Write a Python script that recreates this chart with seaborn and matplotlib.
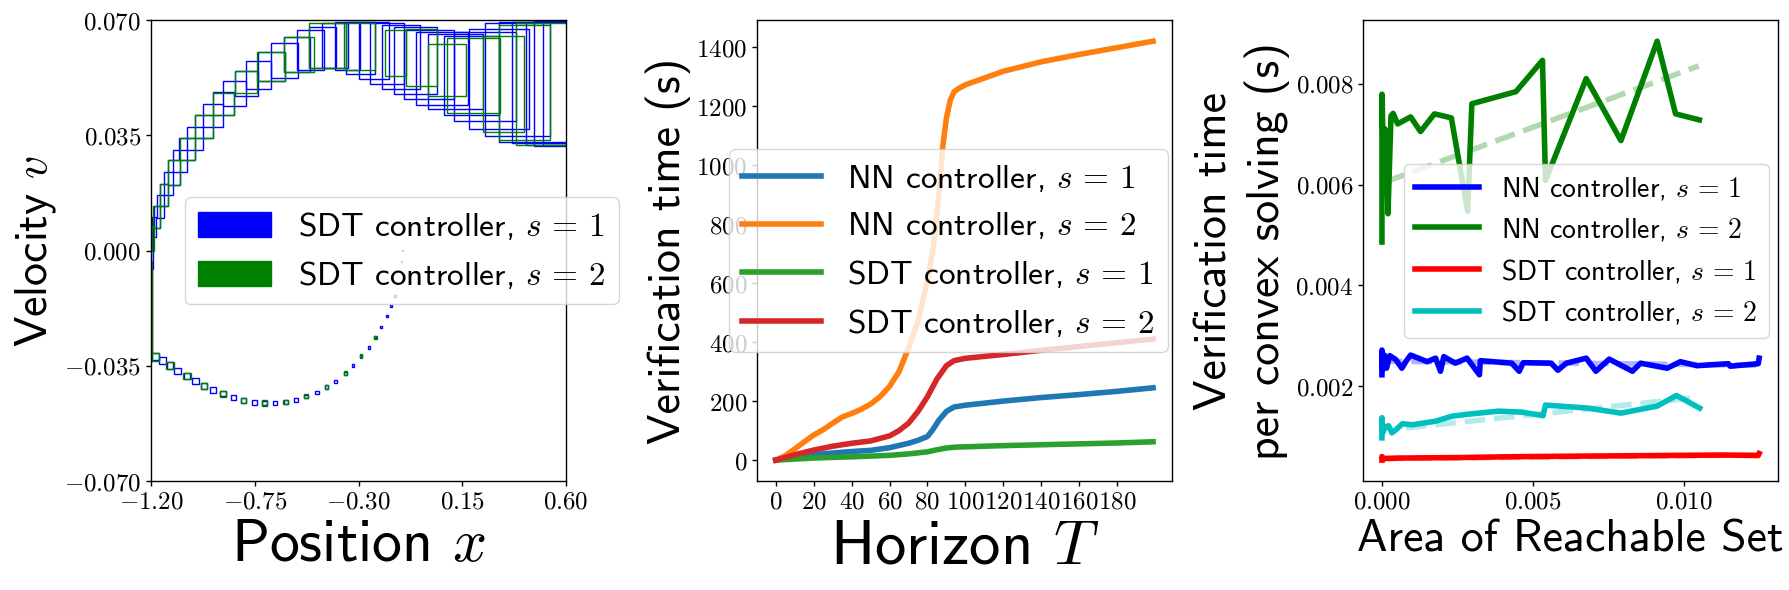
import numpy as np
import pandas as pd
import matplotlib
matplotlib.use("Agg")
import matplotlib.pyplot as plt
from matplotlib.patches import Rectangle, Patch
from matplotlib.ticker import FuncFormatter
import seaborn as sns

# ---- left panel: reachable-set boxes (x_lo, x_hi, v_lo, v_hi) ----
# SDT controller, s=1 (blue)
blue_x0 = [-0.1105, -0.1143, -0.1313, -0.1440, -0.1620, -0.1787, -0.2055, -0.2315, -0.2585, -0.2952,
           -0.3300, -0.3640, -0.4047, -0.4467, -0.4875, -0.5345, -0.5802, -0.6249, -0.6717, -0.7167,
           -0.7624, -0.8102, -0.8552, -0.8999, -0.9426, -0.9826, -1.0204, -1.0581, -1.0989, -1.1329,
           -1.1676, -1.1985, -1.2000,
           -1.1985, -1.1955, -1.1881, -1.1748, -1.1599, -1.1451, -1.1272, -1.1035, -1.0767, -1.0441,
           -1.0114, -0.9728, -0.9327, -0.8881, -0.8362, -0.7887, -0.7352, -0.6803, -0.6253, -0.5689,
           -0.5169, -0.4605, -0.4025, -0.3536, -0.2986, -0.2496, -0.1976, -0.1457, -0.1011, -0.0492,
           0.0028, 0.0697, 0.1142, 0.1811, 0.2479, 0.3072, 0.3666, 0.4260, 0.4600, 0.5000]
blue_x1 = [-0.1075, -0.1097, -0.1267, -0.1380, -0.1560, -0.1713, -0.1965, -0.2225, -0.2495, -0.2848,
           -0.3180, -0.3520, -0.3913, -0.4333, -0.4725, -0.5195, -0.5638, -0.6071, -0.6523, -0.6973,
           -0.7416, -0.7878, -0.8328, -0.8761, -0.9174, -0.9574, -0.9936, -1.0299, -1.0691, -1.1031,
           -1.1364, -1.1655, -1.1970,
           -1.1910, -1.1777, -1.1599, -1.1451, -1.1258, -1.1035, -1.0738, -1.0441, -1.0114, -0.9728,
           -0.9327, -0.8881, -0.8391, -0.7887, -0.7352, -0.6803, -0.6209, -0.5615, -0.5124, -0.4501,
           -0.3981, -0.3461, -0.2942, -0.2303, -0.1679, -0.1011, -0.0313, 0.0400, 0.1142, 0.1736,
           0.2405, 0.3072, 0.3815, 0.4409, 0.5300, 0.6042, 0.7082, 0.8000, 0.8500, 0.9000]
blue_v0 = [-0.0001, -0.00355, -0.00985, -0.01395, -0.01705, -0.0203, -0.02355, -0.02665, -0.02975, -0.0324,
           -0.0353, -0.03765, -0.04015, -0.0419, -0.0436, -0.04485, -0.04585, -0.04665, -0.04695, -0.0470,
           -0.0469, -0.04625, -0.04535, -0.0443, -0.04315, -0.04195, -0.0406, -0.0390, -0.03755, -0.03585,
           -0.03455, -0.03335, -0.0335,
           -0.0057, 0.0040, 0.0069, 0.0099, 0.0137, 0.0168, 0.0200, 0.0240, 0.0274, 0.0305,
           0.0343, 0.0377, 0.0411, 0.0440, 0.0469, 0.0491, 0.0514, 0.0526, 0.0543, 0.0549,
           0.0554, 0.0554, 0.0549, 0.0537, 0.0522, 0.0506, 0.0491, 0.0477, 0.0461, 0.0442,
           0.0429, 0.0411, 0.0394, 0.0371, 0.0349, 0.0331, 0.0326, 0.0320, 0.0318, 0.0322]
blue_v1 = [0.0001, -0.00325, -0.00955, -0.01345, -0.01655, -0.0197, -0.02285, -0.02595, -0.02905, -0.0316,
           -0.0345, -0.03675, -0.03925, -0.0409, -0.0426, -0.04375, -0.04475, -0.04535, -0.04565, -0.0456,
           -0.0455, -0.04475, -0.04385, -0.0427, -0.04145, -0.04025, -0.0388, -0.0372, -0.03565, -0.03395,
           -0.03245, -0.03125, -0.0057,
           0.0074, 0.0103, 0.0137, 0.0169, 0.0202, 0.0240, 0.0274, 0.0306, 0.0343, 0.0377,
           0.0411, 0.0446, 0.0483, 0.0514, 0.0546, 0.0577, 0.0602, 0.0632, 0.0649, 0.0669,
           0.0680, 0.0692, 0.0694, 0.0695, 0.0694, 0.0692, 0.0686, 0.0680, 0.0671, 0.0663,
           0.0657, 0.0652, 0.0663, 0.0674, 0.0692, 0.0694, 0.0695, 0.0696, 0.0697, 0.0700]

# SDT controller, s=2 (green)
green_x0 = [-0.2320, -0.2958, -0.3646, -0.4474, -0.5353, -0.6258, -0.7177, -0.8113, -0.9011, -0.9839,
            -1.0596, -1.1345, -1.1990, -1.2000,
            -1.1970, -1.1926, -1.1599, -1.1258, -1.0738, -1.0114, -0.9327, -0.8362, -0.7397, -0.6253,
            -0.5139, -0.3536, -0.1857, -0.0937, 0.0028, 0.0845, 0.2405, 0.3072, 0.3815]
green_x1 = [-0.2220, -0.2842, -0.3514, -0.4326, -0.5187, -0.6062, -0.6963, -0.7867, -0.8749, -0.9561,
            -1.0284, -1.1015, -1.1650, -1.1970,
            -1.1870, -1.1599, -1.1258, -1.0738, -1.0114, -0.9327, -0.8391, -0.7397, -0.6209, -0.4946,
            -0.3610, -0.2303, -0.0937, 0.0400, 0.1662, 0.3147, 0.4187, 0.5300, 0.6785]
green_v0 = [-0.0267, -0.0325, -0.0377, -0.0420, -0.0449, -0.0467, -0.0471, -0.0463, -0.0444, -0.0421,
            -0.0391, -0.0360, -0.0335, -0.0335,
            0.0000, 0.0069, 0.0137, 0.0200, 0.0274, 0.0343, 0.0411, 0.0480, 0.0514, 0.0543,
            0.0554, 0.0549, 0.0532, 0.0500, 0.0469, 0.0417, 0.0360, 0.0337, 0.0320]
green_v1 = [-0.0259, -0.0315, -0.0367, -0.0408, -0.0437, -0.0453, -0.0455, -0.0447, -0.0426, -0.0401,
            -0.0371, -0.0338, -0.0311, -0.0030,
            0.0074, 0.0137, 0.0202, 0.0274, 0.0343, 0.0411, 0.0480, 0.0546, 0.0602, 0.0649,
            0.0692, 0.0692, 0.0669, 0.0674, 0.0629, 0.0646, 0.0652, 0.0686, 0.0692]

# ---- middle panel: verification time vs horizon ----
T_nn1 = [0, 10, 20, 30, 40, 50, 60, 70, 75, 80, 83, 86, 90, 94, 100, 120, 140, 160, 180, 199]
t_nn1 = [0, 10, 18, 24, 29, 33, 42, 57, 67, 80, 105, 135, 165, 180, 186, 200, 212, 222, 233, 245]
T_nn2 = [0, 5, 10, 15, 20, 25, 30, 35, 40, 45, 50, 55, 60, 65, 70, 75, 80, 83, 86, 88, 90, 92, 94, 96,
         100, 110, 120, 140, 160, 180, 199]
t_nn2 = [0, 15, 38, 62, 85, 103, 125, 146, 158, 172, 190, 215, 250, 300, 380, 470, 610, 720, 900, 1060,
         1160, 1220, 1248, 1258, 1272, 1295, 1318, 1350, 1375, 1398, 1420]
T_sdt1 = [0, 20, 40, 60, 70, 80, 85, 90, 95, 100, 120, 140, 160, 180, 199]
t_sdt1 = [0, 7, 11, 16, 21, 28, 35, 41, 44, 45, 49, 52, 55, 58, 62]
T_sdt2 = [0, 10, 20, 30, 40, 50, 60, 65, 70, 75, 80, 85, 90, 94, 100, 120, 140, 160, 180, 199]
t_sdt2 = [0, 18, 34, 47, 57, 65, 82, 100, 125, 165, 215, 275, 320, 337, 345, 358, 372, 385, 398, 410]

# ---- right panel: time per convex solve vs reachable-set area ----
a_nn1 = [0.0, 0.0, 0.00002, 0.00008, 0.00015, 0.00026, 0.00046, 0.00066, 0.00079, 0.00095, 0.0015,
         0.00178, 0.00194, 0.00205, 0.00243, 0.00282, 0.00323, 0.00326, 0.0043, 0.00455, 0.00468,
         0.00561, 0.00583, 0.00611, 0.00677, 0.00709, 0.00753, 0.0083, 0.00857, 0.00945, 0.00989,
         0.01044, 0.01148, 0.01154, 0.01247, 0.0125]
s_nn1 = [0.00223, 0.00272, 0.00233, 0.00262, 0.00236, 0.00261, 0.00253, 0.00236, 0.00249, 0.00262,
         0.00249, 0.00256, 0.0023, 0.00259, 0.00246, 0.00256, 0.00223, 0.00251, 0.00246, 0.0023,
         0.00247, 0.00246, 0.00232, 0.00246, 0.00256, 0.0023, 0.00254, 0.0023, 0.00246, 0.00236,
         0.00249, 0.00241, 0.00245, 0.0024, 0.00245, 0.00256]
a_nn2 = [0.0, 0.0, 0.00001, 0.00004, 0.0001, 0.00014, 0.0002, 0.0003, 0.00037, 0.00052, 0.00095,
         0.00128, 0.00174, 0.0023, 0.00284, 0.00298, 0.00444, 0.00532, 0.00542, 0.00677, 0.00792,
         0.00912, 0.00973, 0.01052]
s_nn2 = [0.00486, 0.00779, 0.00766, 0.00654, 0.0071, 0.007, 0.00542, 0.00736, 0.00741, 0.0072, 0.00734,
         0.00705, 0.0074, 0.00732, 0.00547, 0.0076, 0.00784, 0.00846, 0.00608, 0.0081, 0.00687,
         0.00884, 0.0074, 0.00728]
a_sdt1 = [0.0, 0.0, 0.00004, 0.00057, 0.00254, 0.00474, 0.00693, 0.00912, 0.01132, 0.01247, 0.0125]
s_sdt1 = [0.00054, 0.00061, 0.00057, 0.00058, 0.00059, 0.00061, 0.00062, 0.00063, 0.00064, 0.00063, 0.00067]
a_sdt2 = [0.0, 0.0, 0.00002, 0.00011, 0.00022, 0.00033, 0.00044, 0.00068, 0.00101, 0.00178, 0.00232,
          0.00287, 0.00386, 0.00463, 0.00534, 0.00542, 0.00682, 0.00792, 0.00912, 0.00976, 0.01053]
s_sdt2 = [0.00098, 0.00138, 0.00108, 0.0012, 0.00122, 0.00108, 0.00113, 0.00126, 0.00124, 0.00131,
          0.00141, 0.00145, 0.00151, 0.00149, 0.00142, 0.00163, 0.00157, 0.00147, 0.00161, 0.00182, 0.00157]
# trend lines (end points)
fit_a_nn1 = [0.0, 0.0125]
fit_s_nn1 = [0.00250, 0.00242]
fit_a_nn2 = [0.0001, 0.0105]
fit_s_nn2 = [0.00605, 0.00835]
fit_a_sdt1 = [0.0, 0.0125]
fit_s_sdt1 = [0.00057, 0.00064]
fit_a_sdt2 = [0.0008, 0.0103]
fit_s_sdt2 = [0.00118, 0.00177]

sns.set_style("ticks", {"axes.edgecolor": "black", "xtick.color": "black", "ytick.color": "black",
                        "axes.labelcolor": "black", "text.color": "black"})
plt.rcParams['font.family'] = ['cmss10', 'DejaVu Sans']
plt.rcParams['mathtext.fontset'] = 'cm'
plt.rcParams['lines.solid_capstyle'] = 'projecting'
plt.rcParams['axes.linewidth'] = 1.0

fig = plt.figure(figsize=(17.9, 5.9), dpi=100)
ax1 = fig.add_axes([0.0844, 0.1847, 0.2318, 0.781])
ax2 = fig.add_axes([0.4229, 0.1847, 0.2318, 0.781])
ax3 = fig.add_axes([0.7615, 0.1847, 0.2318, 0.781])

def mfmt(fmt):
    return FuncFormatter(lambda v, p: "$" + (fmt % v) + "$")

def lab(name, s):
    return name + r" controller, $s\,=\,%d$" % s

# Chart-1 reachable sets
for x0, x1, v0, v1 in zip(blue_x0, blue_x1, blue_v0, blue_v1):
    ax1.add_patch(Rectangle((x0, v0), x1 - x0, v1 - v0, fill=False, edgecolor='b', lw=1.0))
for x0, x1, v0, v1 in zip(green_x0, green_x1, green_v0, green_v1):
    ax1.add_patch(Rectangle((x0, v0), x1 - x0, v1 - v0, fill=False, edgecolor='g', lw=1.0))
ax1.set_xlim(-1.2, 0.6)
ax1.set_ylim(-0.07, 0.07)
ax1.set_xticks([-1.2, -0.75, -0.3, 0.15, 0.6])
ax1.set_yticks([-0.07, -0.035, 0.0, 0.035, 0.07])
ax1.xaxis.set_major_formatter(mfmt("%.2f"))
ax1.yaxis.set_major_formatter(mfmt("%.3f"))
ax1.set_xlabel("Position $x$", fontsize=43)
ax1.set_ylabel("Velocity $v$", fontsize=33)
ax1.legend(handles=[Patch(facecolor='b', edgecolor='b', label=lab("SDT", 1)),
                    Patch(facecolor='g', edgecolor='g', label=lab("SDT", 2))],
           loc='center left', bbox_to_anchor=(0.041, 0.5), fontsize=24,
           handlelength=2.2, handleheight=0.8)

# Chart-2 verification time
lw2 = 4.0
sns.lineplot(x=T_nn1, y=t_nn1, ax=ax2, color='#1f77b4', lw=lw2, label=lab("NN", 1))
sns.lineplot(x=T_nn2, y=t_nn2, ax=ax2, color='#ff7f0e', lw=lw2, label=lab("NN", 2))
sns.lineplot(x=T_sdt1, y=t_sdt1, ax=ax2, color='#2ca02c', lw=lw2, label=lab("SDT", 1))
sns.lineplot(x=T_sdt2, y=t_sdt2, ax=ax2, color='#d62728', lw=lw2, label=lab("SDT", 2))
ax2.set_xticks(range(0, 200, 20))
ax2.xaxis.set_major_formatter(mfmt("%d"))
ax2.yaxis.set_major_formatter(mfmt("%d"))
ax2.set_xlabel("Horizon $T$", fontsize=45)
ax2.set_ylabel("Verification time (s)", fontsize=33)
ax2.legend(loc='center left', bbox_to_anchor=(-0.108, 0.5), fontsize=24, handlelength=2.35)

# Chart-3 time per convex solving
lw3 = 4.0
series = [(a_nn1, s_nn1, fit_a_nn1, fit_s_nn1, 'b', lab("NN", 1)),
          (a_nn2, s_nn2, fit_a_nn2, fit_s_nn2, 'g', lab("NN", 2)),
          (a_sdt1, s_sdt1, fit_a_sdt1, fit_s_sdt1, 'r', lab("SDT", 1)),
          (a_sdt2, s_sdt2, fit_a_sdt2, fit_s_sdt2, 'c', lab("SDT", 2))]
for a, s, fa, fs, c, name in series:
    sns.lineplot(x=a, y=s, ax=ax3, color=c, lw=lw3, label=name, estimator=None, sort=False)
    sns.lineplot(x=fa, y=fs, ax=ax3, color=c, lw=lw3, linestyle='--', alpha=0.3,
                 estimator=None, sort=False)
ax3.set_xticks([0.0, 0.005, 0.010])
ax3.set_yticks([0.002, 0.004, 0.006, 0.008])
ax3.xaxis.set_major_formatter(mfmt("%.3f"))
ax3.yaxis.set_major_formatter(mfmt("%.3f"))
ax3.set_xlabel("Area of Reachable Set", fontsize=33)
ax3.set_ylabel("Verification time\nper convex solving (s)", fontsize=33, linespacing=1.25)
h, l = ax3.get_legend_handles_labels()
ax3.legend(h[:4], l[:4], loc='center left', bbox_to_anchor=(0.065, 0.5), fontsize=20, handlelength=2.3)

for ax in (ax1, ax2, ax3):
    ax.tick_params(labelsize=18, width=1.0, length=3.5)
    for sp in ax.spines.values():
        sp.set_visible(True)
        sp.set_color('black')

fig.savefig("out.png", dpi=100)
